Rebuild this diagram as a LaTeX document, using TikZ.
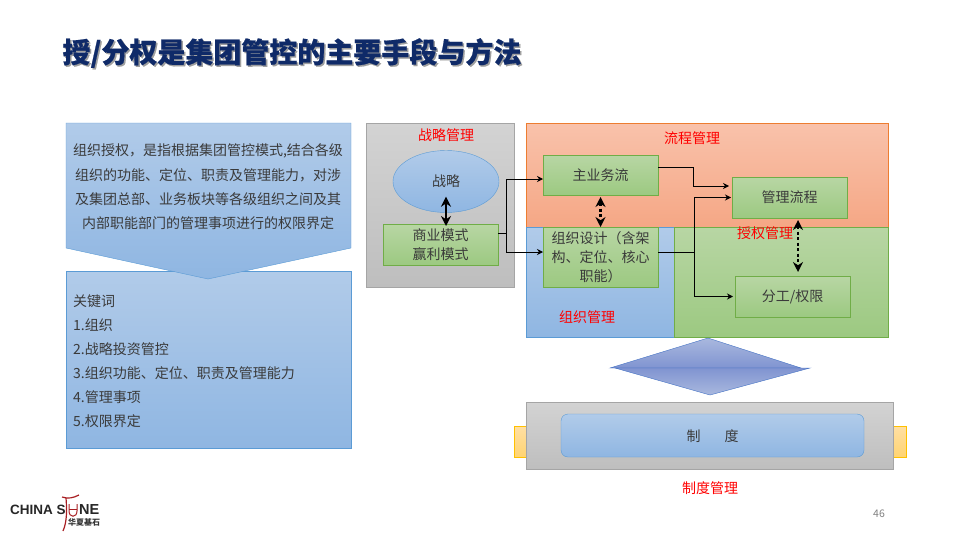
\documentclass[tikz,border=0pt]{standalone}
\usepackage{fontspec}
\setmainfont{Noto Sans CJK SC}
\newfontfamily\logofont{Liberation Sans}
\newcommand{\titlestyle}{\fontsize{28}{30}\bfseries\selectfont\addfontfeature{FakeBold=0.6}}
\usetikzlibrary{arrows.meta,shapes.geometric}
\definecolor{titleblue}{HTML}{0F2A68}
\definecolor{bodytext}{HTML}{3A3A3A}
\definecolor{bluetop}{HTML}{B1CBE9}
\definecolor{bluebot}{HTML}{8FB6E2}
\definecolor{blueedge}{HTML}{5B9BD5}
\definecolor{greentop}{HTML}{B8D6A4}
\definecolor{greenbot}{HTML}{9CC981}
\definecolor{greenedge}{HTML}{70AD47}
\definecolor{graytop}{HTML}{D3D3D3}
\definecolor{graybot}{HTML}{BEBEBE}
\definecolor{grayedge}{HTML}{A5A5A5}
\definecolor{orangetop}{HTML}{F9C2AB}
\definecolor{orangebot}{HTML}{F5A785}
\definecolor{orangeedge}{HTML}{ED7D31}
\definecolor{yellowtop}{HTML}{FFDFA3}
\definecolor{yellowbot}{HTML}{FFD472}
\definecolor{yellowedge}{HTML}{FFC000}
\definecolor{kiteedge}{HTML}{4472C4}
\definecolor{kitetop}{HTML}{A9B8DE}
\definecolor{kitebot}{HTML}{8094D1}
\definecolor{logored}{HTML}{A81E22}
\tikzset{
	panel/.style={inner sep=0pt, outer sep=0pt},
	bluepanel/.style={panel, draw=blueedge, top color=bluetop, bottom color=bluebot},
	greenpanel/.style={panel, draw=greenedge, top color=greentop, bottom color=greenbot},
	graypanel/.style={panel, draw=grayedge, top color=graytop, bottom color=graybot},
	orangepanel/.style={panel, draw=orangeedge, top color=orangetop, bottom color=orangebot},
	yellowpanel/.style={panel, draw=yellowedge, top color=yellowtop, bottom color=yellowbot},
	stepbox/.style={greenpanel, line width=0.9pt, text=bodytext, minimum width=115pt, align=center, font=\fontsize{14}{19}\selectfont},
	redlabel/.style={text=red, font=\fontsize{14}{16}\selectfont},
	flowline/.style={-{Stealth[length=6pt,width=6pt]}, line width=1pt, black},
	bothways/.style={{Stealth[length=10pt,width=10pt]}-{Stealth[length=10pt,width=10pt]}, line width=2.8pt, black},
	dotways/.style={bothways, dash pattern=on 3pt off 2.5pt}
}
\begin{document}
\begin{tikzpicture}[x=1pt, y=-1pt]
		\useasboundingbox (0,0) rectangle (958,538);
		
		% title
		\node[gray!75, font=\titlestyle] (titleshade) at (293.5,54.5) {授/分权是集团管控的主要手段与方法};
		\node[titleblue, font=\titlestyle] (title) at (292,53) {授/分权是集团管控的主要手段与方法};
		
		% left column
		\node[bluepanel, minimum width=285pt, minimum height=177pt] (keys) at (208.5,359.5) {};
		\node[anchor=west, inner sep=0pt, text=bodytext, align=left, font=\fontsize{14}{24}\selectfont] (keytext) at (73,361.5) {关键词\\1.组织\\2.战略投资管控\\3.组织功能、定位、职责及管理能力\\4.管理事项\\5.权限界定};
		\draw[blueedge, top color=bluetop, bottom color=bluebot] (66,123) -- (351,123) -- (351,248) -- (208,279) -- (66,248) -- cycle;
		\node[text=bodytext, align=center, font=\fontsize{14}{24.3}\selectfont] (intro) at (208,187) {组织授权，是指根据集团管控模式,结合各级\\组织的功能、定位、职责及管理能力，对涉\\及集团总部、业务板块等各级组织之间及其\\内部职能部门的管理事项进行的权限界定};
		
		% strategy panel
		\node[graypanel, minimum width=148pt, minimum height=164pt] (stratpanel) at (440.2,205) {};
		\node[redlabel] (stratlabel) at (446,135.5) {战略管理};
		\node[draw=blueedge, top color=bluetop, bottom color=bluebot, ellipse, inner sep=0pt, minimum width=106pt, minimum height=62pt, text=bodytext, font=\fontsize{14}{16}\selectfont] (strat) at (446,181.5) {战略};
		\node[stepbox, minimum height=41pt] (model) at (440.5,244.5) {商业模式\\赢利模式};
		
		% management panels
		\node[orangepanel, minimum width=361.5pt, minimum height=104pt] (flowpanel) at (707.25,175) {};
		\node[bluepanel, minimum width=147.5pt, minimum height=110pt] (orgpanel) at (600.25,282) {};
		\node[greenpanel, minimum width=214pt, minimum height=110pt] (authpanel) at (781,282) {};
		\node[redlabel] (flowlabel) at (692,138) {流程管理};
		\node[redlabel] (authlabel) at (765,233) {授权管理};
		\node[redlabel] (orglabel) at (587,317) {组织管理};
		
		\node[stepbox, minimum height=40pt] (mainflow) at (600.5,175) {主业务流};
		\node[stepbox, minimum height=60pt] (orgdesign) at (600.5,257) {组织设计（含架\\构、定位、核心\\职能）};
		\node[stepbox, minimum height=41pt] (mgmtflow) at (789.5,197.5) {管理流程};
		\node[stepbox, minimum height=41pt] (duty) at (792.5,296.5) {分工/权限};
		
		% connectors
		\draw[line width=1pt] ([yshift=11pt]model.east) -- ++(8.5,0) coordinate (fork);
		\draw[flowline] (fork) |- ([yshift=-4pt]mainflow.west);
		\draw[flowline] (fork) |- ([yshift=5pt]orgdesign.west);
		\draw[flowline] ([yshift=8pt]mainflow.east) -- ++(35,0) |- ([yshift=11.5pt,xshift=-3pt]mgmtflow.west);
		\draw[line width=1pt] ([yshift=5pt]orgdesign.east) -- ++(36,0) coordinate (merge);
		\draw[flowline] (merge) |- ([xshift=-1pt]mgmtflow.west);
		\draw[flowline] (merge) |- ([xshift=-2pt]duty.west);
		\draw[bothways] ([yshift=16pt]strat.south) -- ([xshift=5.5pt,yshift=-2pt]model.north);
		\draw[dotways] ([yshift=-2pt]mainflow.south) -- (orgdesign.north);
		\draw[dotways] ([xshift=8.5pt,yshift=-2pt]mgmtflow.south) -- ([xshift=5.5pt,yshift=4pt]duty.north);
		
		% kite between panels and rules
		\draw[kiteedge, top color=kitetop, bottom color=kitebot] (708,338) -- (801,368) -- (610,368) -- cycle;
		\draw[kiteedge, top color=kitebot, bottom color=kitetop] (615,368) -- (810,368) -- (710,395) -- cycle;
		
		% rules panel
		\node[yellowpanel, line width=0.9pt, minimum width=392pt, minimum height=31pt] (tabs) at (710,441.5) {};
		\node[graypanel, minimum width=367pt, minimum height=67pt] (rulepanel) at (709.5,435.5) {};
		\node[bluepanel, rounded corners=7pt, minimum width=303pt, minimum height=43pt] (rules) at (712.5,435.5) {};
		\node[text=bodytext, font=\fontsize{14}{16}\selectfont] (rulestext) at (712.5,436.5) {制\hspace{24pt}度};
		\node[redlabel] (ruleslabel) at (710,488.5) {制度管理};
		
		\node[gray, font=\fontsize{10.5}{12}\selectfont] (pageno) at (879,514) {46};
		
		% logo
		\node[anchor=west, inner sep=0pt, font=\logofont\bfseries\fontsize{13.5}{14}\selectfont, text=black!85] (logoleft) at (10,510) {CHINA S};
		\node[anchor=west, inner sep=0pt, font=\logofont\bfseries\fontsize{14.5}{15}\selectfont, text=black!85] (logoright) at (79,510) {NE};
		\draw[logored, line width=1.2pt] (62,497) .. controls (68,499) and (73,498) .. (79,495);
		\draw[logored, line width=1.2pt] (66,498) .. controls (67,510) and (67,522) .. (63,531);
		\draw[logored, line width=1pt] (69,504) -- (69,511) .. controls (69,518) and (77,518) .. (77,511) -- (77,504);
		\draw[logored, line width=0.8pt] (69,509) -- (77,509);
		\node[inner sep=0pt, font=\fontsize{8}{8}\bfseries\selectfont, text=black!80] (logocn) at (84,522) {华夏基石};
		\end{tikzpicture}
\end{document}
